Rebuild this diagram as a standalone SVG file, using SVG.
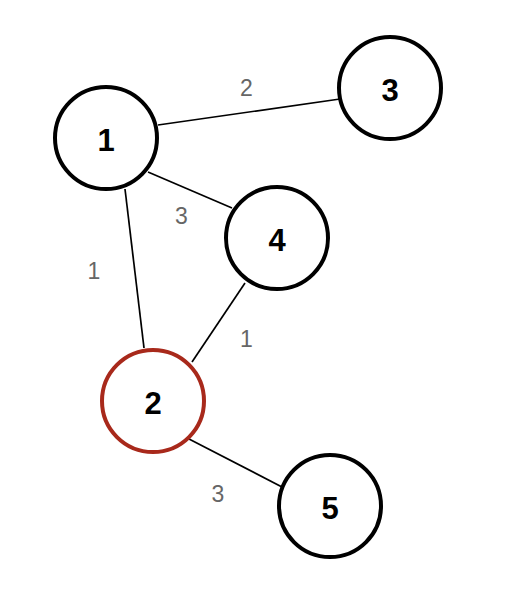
<svg xmlns="http://www.w3.org/2000/svg" width="506" height="606" viewBox="0 0 506 606">
<style>
.node{fill:#fff;stroke:#000;stroke-width:4}
.red{stroke:#a8291b}
.nl{font-family:"Liberation Sans",Arial,sans-serif;font-weight:bold;font-size:31px;text-anchor:middle;dominant-baseline:central;fill:#000}
.el{font-family:"Liberation Sans",Arial,sans-serif;font-size:23px;text-anchor:middle;dominant-baseline:central;fill:#666}
.edge{stroke:#000;stroke-width:1.7;fill:none}
</style>
<rect width="506" height="606" fill="#fff"/>
<g id="edges">
<line class="edge" x1="158" y1="125" x2="340" y2="99"/>
<line class="edge" x1="148" y1="172" x2="232" y2="208"/>
<line class="edge" x1="125" y1="189" x2="144" y2="348"/>
<line class="edge" x1="245" y1="283" x2="192" y2="362"/>
<line class="edge" x1="189" y1="439" x2="282" y2="487"/>
<text class="el" x="246.5" y="88">2</text>
<text class="el" x="181.5" y="215.5">3</text>
<text class="el" x="94" y="271">1</text>
<text class="el" x="246.5" y="338.5">1</text>
<text class="el" x="218" y="493.5">3</text>
</g>
<g id="node1"><circle class="node" cx="106" cy="138" r="51"/><text class="nl" x="106" y="140">1</text></g>
<g id="node3"><circle class="node" cx="390" cy="88" r="51"/><text class="nl" x="390" y="90">3</text></g>
<g id="node4"><circle class="node" cx="277" cy="238" r="51"/><text class="nl" x="277" y="240">4</text></g>
<g id="node2"><circle class="node red" cx="153" cy="401" r="51"/><text class="nl" x="153" y="403">2</text></g>
<g id="node5"><circle class="node" cx="330" cy="506" r="51"/><text class="nl" x="330" y="508">5</text></g>
</svg>
